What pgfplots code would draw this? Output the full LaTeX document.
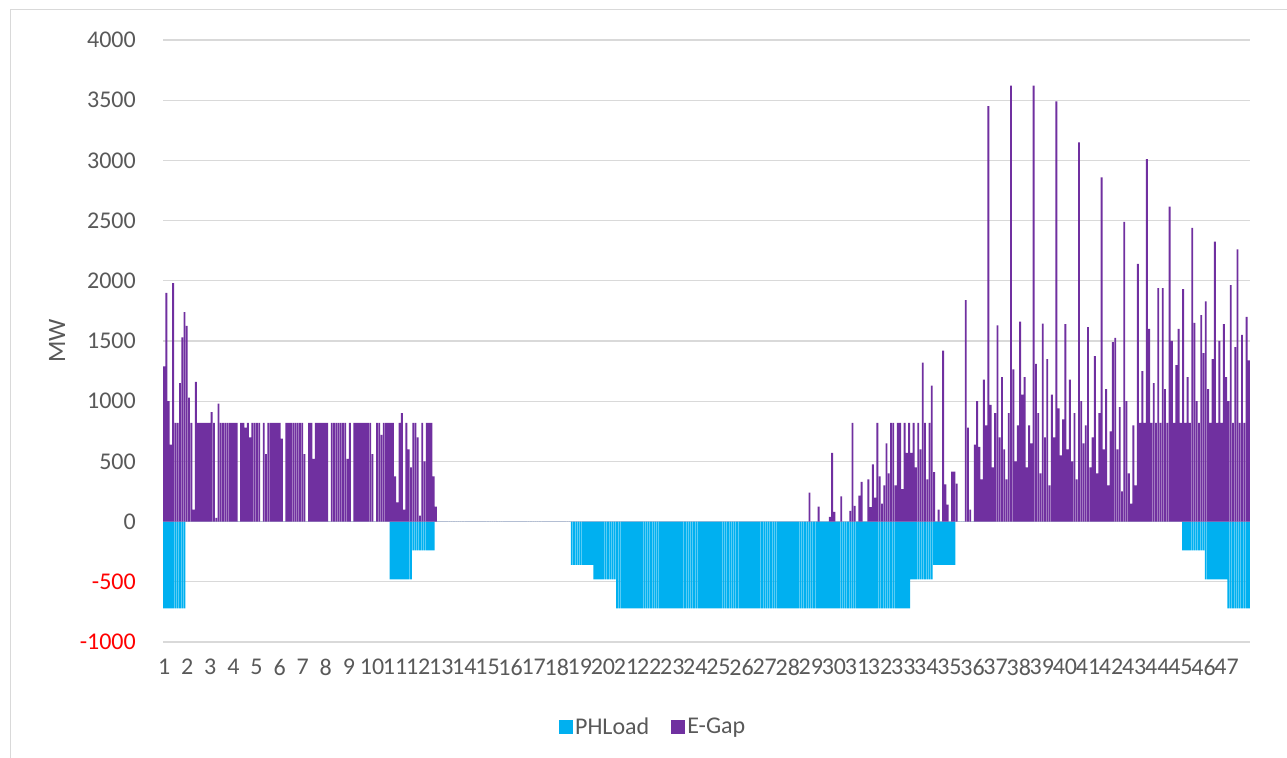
\documentclass[border=0pt]{standalone}
\usepackage{fontspec}
\setmainfont{Carlito}
\usepackage{pgfplots}
\usepackage{pgfplotstable}
\pgfplotsset{compat=1.18}
\definecolor{phl}{HTML}{00B0F0}
\definecolor{egap}{HTML}{7030A0}
\definecolor{txt}{HTML}{595959}
\definecolor{grd}{HTML}{D9D9D9}
\pgfplotstableread[row sep=\\]{
e p\\
1290 -720\\ 1900 -720\\ 1000 -720\\ 640 -720\\ 1980 -720\\ 820 -720\\ 820 -720\\ 1150 -720\\ 1530 -720\\ 1740 -720\\
1625 0\\ 1030 0\\ 820 0\\ 100 0\\ 1160 0\\ 820 0\\ 820 0\\ 820 0\\ 820 0\\ 820 0\\
820 0\\ 910 0\\ 820 0\\ 30 0\\ 980 0\\ 820 0\\ 820 0\\ 820 0\\ 820 0\\ 820 0\\
820 0\\ 820 0\\ 820 0\\ 0 0\\ 820 0\\ 820 0\\ 780 0\\ 820 0\\ 700 0\\ 820 0\\
820 0\\ 820 0\\ 820 0\\ 0 0\\ 820 0\\ 560 0\\ 820 0\\ 820 0\\ 820 0\\ 820 0\\
820 0\\ 820 0\\ 690 0\\ 0 0\\ 820 0\\ 820 0\\ 820 0\\ 820 0\\ 820 0\\ 820 0\\
820 0\\ 820 0\\ 560 0\\ 0 0\\ 820 0\\ 820 0\\ 520 0\\ 820 0\\ 820 0\\ 820 0\\
820 0\\ 820 0\\ 820 0\\ 0 0\\ 820 0\\ 820 0\\ 820 0\\ 820 0\\ 820 0\\ 820 0\\
820 0\\ 520 0\\ 820 0\\ 0 0\\ 820 0\\ 820 0\\ 820 0\\ 820 0\\ 820 0\\ 820 0\\
820 0\\ 820 0\\ 560 0\\ 0 0\\ 820 0\\ 820 0\\ 720 0\\ 820 0\\ 820 0\\ 820 0\\
820 -480\\ 820 -480\\ 375 -480\\ 160 -480\\ 820 -480\\ 900 -480\\ 100 -480\\ 820 -480\\ 600 -480\\ 450 -480\\
820 -240\\ 820 -240\\ 700 -240\\ 50 -240\\ 820 -240\\ 500 -240\\ 820 -240\\ 820 -240\\ 820 -240\\ 375 -240\\
125 0\\ 0 0\\ 0 0\\ 0 0\\ 0 0\\ 0 0\\ 0 0\\ 0 0\\ 0 0\\ 0 0\\
0 0\\ 0 0\\ 0 0\\ 0 0\\ 0 0\\ 0 0\\ 0 0\\ 0 0\\ 0 0\\ 0 0\\
0 0\\ 0 0\\ 0 0\\ 0 0\\ 0 0\\ 0 0\\ 0 0\\ 0 0\\ 0 0\\ 0 0\\
0 0\\ 0 0\\ 0 0\\ 0 0\\ 0 0\\ 0 0\\ 0 0\\ 0 0\\ 0 0\\ 0 0\\
0 0\\ 0 0\\ 0 0\\ 0 0\\ 0 0\\ 0 0\\ 0 0\\ 0 0\\ 0 0\\ 0 0\\
0 0\\ 0 0\\ 0 0\\ 0 0\\ 0 0\\ 0 0\\ 0 0\\ 0 0\\ 0 0\\ 0 0\\
0 -360\\ 0 -360\\ 0 -360\\ 0 -360\\ 0 -360\\ 0 -360\\ 0 -360\\ 0 -360\\ 0 -360\\ 0 -360\\
0 -480\\ 0 -480\\ 0 -480\\ 0 -480\\ 0 -480\\ 0 -480\\ 0 -480\\ 0 -480\\ 0 -480\\ 0 -480\\
0 -720\\ 0 -720\\ 0 -720\\ 0 -720\\ 0 -720\\ 0 -720\\ 0 -720\\ 0 -720\\ 0 -720\\ 0 -720\\
0 -720\\ 0 -720\\ 0 -720\\ 0 -720\\ 0 -720\\ 0 -720\\ 0 -720\\ 0 -720\\ 0 -720\\ 0 -720\\
0 -720\\ 0 -720\\ 0 -720\\ 0 -720\\ 0 -720\\ 0 -720\\ 0 -720\\ 0 -720\\ 0 -720\\ 0 -720\\
0 -720\\ 0 -720\\ 0 -720\\ 0 -720\\ 0 -720\\ 0 -720\\ 0 -720\\ 0 -720\\ 0 -720\\ 0 -720\\
0 -720\\ 0 -720\\ 0 -720\\ 0 -720\\ 0 -720\\ 0 -720\\ 0 -720\\ 0 -720\\ 0 -720\\ 0 -720\\
0 -720\\ 0 -720\\ 0 -720\\ 0 -720\\ 0 -720\\ 0 -720\\ 0 -720\\ 0 -720\\ 0 -720\\ 0 -720\\
0 -720\\ 0 -720\\ 0 -720\\ 0 -720\\ 0 -720\\ 0 -720\\ 0 -720\\ 0 -720\\ 0 -720\\ 0 -720\\
0 -720\\ 0 -720\\ 0 -720\\ 0 -720\\ 0 -720\\ 0 -720\\ 0 -720\\ 0 -720\\ 0 -720\\ 0 -720\\
0 -720\\ 0 -720\\ 0 -720\\ 0 -720\\ 0 -720\\ 240 -720\\ 0 -720\\ 0 -720\\ 0 -720\\ 125 -720\\
0 -720\\ 0 -720\\ 0 -720\\ 0 -720\\ 40 -720\\ 570 -720\\ 80 -720\\ 0 -720\\ 0 -720\\ 210 -720\\
0 -720\\ 0 -720\\ 0 -720\\ 90 -720\\ 820 -720\\ 130 -720\\ 0 -720\\ 215 -720\\ 330 -720\\ 0 -720\\
0 -720\\ 350 -720\\ 120 -720\\ 475 -720\\ 200 -720\\ 820 -720\\ 375 -720\\ 150 -720\\ 300 -720\\ 650 -720\\
400 -720\\ 820 -720\\ 820 -720\\ 300 -720\\ 820 -720\\ 820 -720\\ 270 -720\\ 820 -720\\ 570 -720\\ 820 -720\\
570 -480\\ 820 -480\\ 450 -480\\ 820 -480\\ 600 -480\\ 1320 -480\\ 820 -480\\ 350 -480\\ 820 -480\\ 1130 -480\\
410 -360\\ 0 -360\\ 100 -360\\ 0 -360\\ 1420 -360\\ 310 -360\\ 140 -360\\ 0 -360\\ 415 -360\\ 415 -360\\
315 0\\ 0 0\\ 0 0\\ 0 0\\ 1840 0\\ 780 0\\ 100 0\\ 0 0\\ 640 0\\ 1000 0\\
620 0\\ 350 0\\ 1180 0\\ 800 0\\ 3450 0\\ 970 0\\ 450 0\\ 900 0\\ 1630 0\\ 700 0\\
1200 0\\ 600 0\\ 350 0\\ 900 0\\ 3620 0\\ 1265 0\\ 500 0\\ 800 0\\ 1660 0\\ 1055 0\\
1200 0\\ 450 0\\ 800 0\\ 650 0\\ 3620 0\\ 1310 0\\ 900 0\\ 400 0\\ 1645 0\\ 700 0\\
1350 0\\ 300 0\\ 1055 0\\ 700 0\\ 3490 0\\ 940 0\\ 550 0\\ 850 0\\ 1640 0\\ 600 0\\
1180 0\\ 500 0\\ 900 0\\ 350 0\\ 3150 0\\ 1000 0\\ 650 0\\ 800 0\\ 1615 0\\ 450 0\\
700 0\\ 1375 0\\ 400 0\\ 900 0\\ 2860 0\\ 600 0\\ 1100 0\\ 300 0\\ 750 0\\ 1490 0\\
1525 0\\ 600 0\\ 950 0\\ 250 0\\ 2490 0\\ 1000 0\\ 400 0\\ 150 0\\ 800 0\\ 300 0\\
2140 0\\ 820 0\\ 1250 0\\ 820 0\\ 3010 0\\ 1600 0\\ 820 0\\ 1150 0\\ 820 0\\ 1940 0\\
820 0\\ 1940 0\\ 1100 0\\ 820 0\\ 2615 0\\ 1500 0\\ 820 0\\ 1300 0\\ 1600 0\\ 820 0\\
1930 -240\\ 820 -240\\ 1200 -240\\ 820 -240\\ 2440 -240\\ 1650 -240\\ 1000 -240\\ 820 -240\\ 1715 -240\\ 1400 -240\\
1830 -480\\ 1100 -480\\ 820 -480\\ 1350 -480\\ 2325 -480\\ 820 -480\\ 1500 -480\\ 820 -480\\ 1640 -480\\ 1200 -480\\
1000 -720\\ 1965 -720\\ 820 -720\\ 1450 -720\\ 2260 -720\\ 820 -720\\ 1550 -720\\ 820 -720\\ 1700 -720\\ 1340 -720\\
}\data
\begin{document}
\begin{tikzpicture}
\useasboundingbox (0,0) rectangle (1287bp,758bp);
\draw[grd, line width=1bp] (10bp,-20bp) rectangle (1310bp,748bp);
\begin{axis}[
  at={(163bp,116bp)}, anchor=south west,
  width=1087bp, height=602bp, scale only axis,
  xmin=0, xmax=48, ymin=-1000, ymax=4000,
  ytick={-1000,-500,...,4000},
  yticklabels={\textcolor{red}{-1000},\textcolor{red}{-500},0,500,1000,1500,2000,2500,3000,3500,4000},
  xtick={0.05,1.07,2.09,3.11,4.13,5.15,6.17,7.19,8.21,9.23,10.25,11.27,12.29,13.31,14.33,15.35,16.37,17.39,18.41,19.43,20.45,21.47,22.49,23.51,24.53,25.55,26.57,27.59,28.61,29.63,30.65,31.67,32.69,33.71,34.73,35.75,36.77,37.79,38.81,39.83,40.85,41.87,42.89,43.91,44.93,45.95,46.97},
  xticklabels={1,2,3,4,5,6,7,8,9,10,11,12,13,14,15,16,17,18,19,20,21,22,23,24,25,26,27,28,29,30,31,32,33,34,35,36,37,38,39,40,41,42,43,44,45,46,47},
  ymajorgrids, grid style={grd, line width=1.3bp},
  axis line style={draw=none},
  major tick length=0pt,
  tick label style={font=\fontsize{24bp}{28bp}\selectfont, text=txt, inner sep=0pt},
  yticklabel style={anchor=east, xshift=-27bp},
  xticklabel style={anchor=north, yshift=-17bp},
  ylabel={MW},
  ylabel style={font=\fontsize{25bp}{30bp}\selectfont, text=txt, at={(axis description cs:-0.0975,0.5)}, anchor=center, rotate=0},
  ybar, bar width=1.9bp,
  legend style={at={(0.451,-0.141)}, anchor=center, legend columns=2, draw=none,
    font=\fontsize{24bp}{28bp}\selectfont, text=txt,
    /tikz/every even column/.append style={column sep=20bp}},
  legend image code/.code={\fill[#1] (0bp,-7bp) rectangle (14bp,7bp);},
]
\addplot[fill=phl, draw=none, bar shift=0pt] table[x expr=\coordindex/10+0.05, y=p]{\data};
\addlegendentry{PHLoad}
\addplot[fill=egap, draw=none, bar shift=0pt] table[x expr=\coordindex/10+0.05, y=e]{\data};
\addlegendentry{E-Gap}
\end{axis}
\end{tikzpicture}
\end{document}
